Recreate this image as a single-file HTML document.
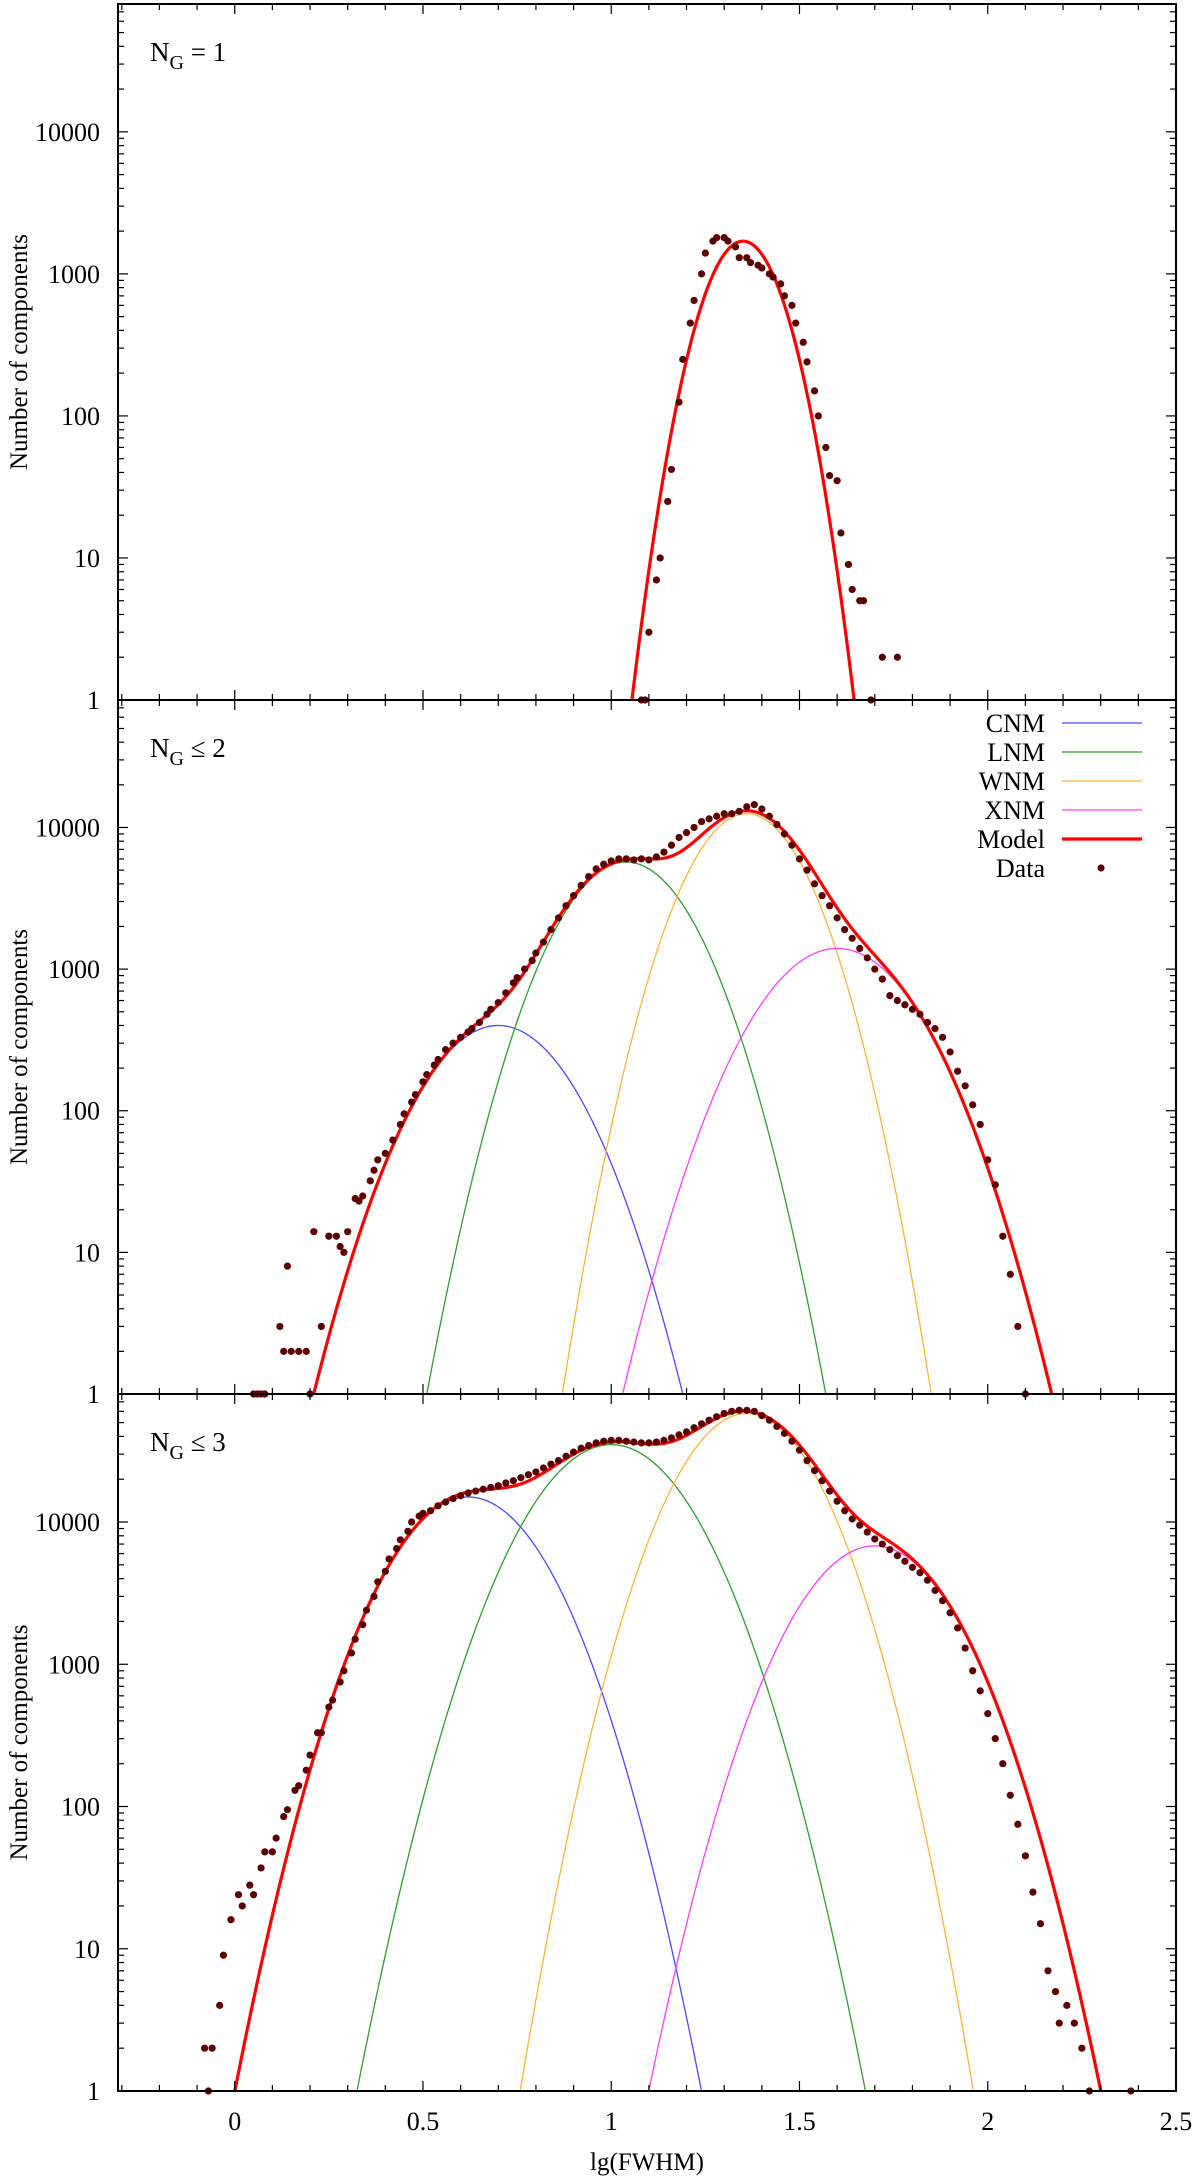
<!DOCTYPE html>
<html><head><meta charset="utf-8"><style>
html,body{margin:0;padding:0;background:#fff;width:1200px;height:2184px;overflow:hidden}
svg{display:block;font-family:"Liberation Serif","DejaVu Serif",serif}
</style></head><body>
<svg id="chart" width="1200" height="2184" viewBox="0 0 1200 2184" xmlns="http://www.w3.org/2000/svg"></svg>
<script>
// ---------- data ----------
const xTicks = [0, 0.5, 1, 1.5, 2, 2.5];
const xTickLabels = ["0", "0.5", "1", "1.5", "2", "2.5"];
const yTicks = [1, 10, 100, 1000, 10000];
const yTickLabels = ["1", "10", "100", "1000", "10000"];
const panelLabels = ["= 1", "\u2264 2", "\u2264 3"];
const componentNames = ["CNM", "LNM", "WNM", "XNM"];
const componentColors = ["#4a4aff", "#2e9e2e", "#ffb340", "#ff40ff"];

// panel 1 model: single gaussian
const p1Amp = [1700];
const p1Mu = [1.35];
const p1Sig = [0.0765];
const p1X = [1.08,1.09,1.10,1.12,1.13,1.15,1.16,1.18,1.19,1.21,1.22,1.24,1.25,1.27,1.28,1.30,1.31,1.33,1.34,1.36,1.37,1.39,1.40,1.42,1.43,1.45,1.46,1.48,1.49,1.51,1.52,1.54,1.55,1.57,1.58,1.60,1.61,1.63,1.64,1.66,1.67,1.69,1.72,1.76];
const p1Y = [1,1,3,7,10,25,42,125,250,450,650,1000,1400,1700,1800,1800,1700,1550,1300,1300,1200,1150,1100,1000,950,850,700,600,450,330,240,150,100,60,38,35,15,9,6,5,5,1,2,2];

// panel 2 model: CNM, LNM, WNM, XNM
const p2Amp = [400, 5700, 12500, 1400];
const p2Mu = [0.70, 1.04, 1.36, 1.60];
const p2Sig = [0.1416, 0.1274, 0.1128, 0.1497];
const p2X = [0.05,0.06,0.07,0.08,0.12,0.13,0.14,0.15,0.17,0.19,0.20,0.21,0.23,0.25,0.27,0.28,0.29,0.30,0.32,0.33,0.34,0.36,0.37,0.38,0.40,0.42,0.44,0.45,0.47,0.48,0.50,0.51,0.53,0.54,0.56,0.58,0.60,0.62,0.63,0.65,0.67,0.68,0.70,0.72,0.74,0.75,0.77,0.79,0.80,0.82,0.84,0.86,0.88,0.90,0.92,0.94,0.96,0.98,1.00,1.02,1.04,1.06,1.08,1.10,1.12,1.14,1.16,1.18,1.20,1.22,1.24,1.26,1.28,1.30,1.32,1.34,1.36,1.38,1.40,1.42,1.44,1.46,1.48,1.50,1.52,1.54,1.56,1.58,1.60,1.62,1.64,1.66,1.68,1.70,1.72,1.74,1.76,1.78,1.80,1.82,1.84,1.86,1.88,1.90,1.92,1.94,1.96,1.98,2.00,2.02,2.04,2.06,2.08,2.10];
const p2Y = [1,1,1,1,3,2,8,2,2,2,1,14,3,13,13,11,10,14,24,23,25,32,38,45,50,62,80,95,115,130,160,180,210,230,270,300,330,360,380,420,480,520,580,680,800,870,1000,1150,1300,1550,1900,2300,2800,3300,3900,4500,5100,5500,5800,6000,6000,5900,6000,5900,6200,6700,7500,8500,9200,10000,11000,11500,12000,12500,12500,13000,14000,14500,13500,12000,10500,9000,7500,6000,5000,4000,3300,2800,2300,1900,1650,1400,1200,1000,850,650,600,560,520,480,420,380,330,260,190,150,110,80,45,30,13,7,3,1];

// panel 3 model
const p3Amp = [15000, 35000, 58000, 6800];
const p3Mu = [0.62, 1.00, 1.36, 1.70];
const p3Sig = [0.1413, 0.1476, 0.1285, 0.1429];
const p3X = [-0.08,-0.07,-0.06,-0.04,-0.03,-0.01,0.01,0.02,0.04,0.05,0.07,0.08,0.10,0.11,0.13,0.14,0.16,0.17,0.19,0.20,0.22,0.23,0.25,0.26,0.28,0.29,0.31,0.32,0.34,0.35,0.37,0.38,0.40,0.41,0.43,0.44,0.46,0.47,0.49,0.50,
  0.52,0.54,0.56,0.58,0.60,0.62,0.64,0.66,0.68,0.70,0.72,0.74,0.76,0.78,0.80,0.82,0.84,0.86,0.88,0.90,0.92,0.94,0.96,0.98,1.00,1.02,1.04,1.06,1.08,1.10,1.12,1.14,1.16,1.18,1.20,1.22,1.24,1.26,1.28,1.30,1.32,1.34,1.36,1.38,1.40,1.42,1.44,1.46,1.48,1.50,1.52,1.54,1.56,1.58,1.60,1.62,1.64,1.66,1.68,1.70,1.72,1.74,1.76,1.78,1.80,1.82,1.84,1.86,1.88,1.90,1.92,1.94,1.96,1.98,2.00,2.02,2.04,2.06,2.08,2.10,2.12,2.14,2.16,2.18,2.19,2.21,2.23,2.25,2.27,2.38];
const p3Y = [2,1,2,4,9,16,24,20,28,24,37,48,48,60,85,95,130,140,180,230,330,330,500,560,750,900,1200,1500,1900,2400,3000,3800,4500,5500,6500,7500,8600,10000,11000,11500,
  12000,13000,13800,14600,15300,16000,16500,17000,17500,18000,18800,19500,20500,21500,22500,24000,25500,27000,29000,31000,33000,34500,36000,37000,37500,37500,37000,36500,36000,36000,36500,37500,39000,41000,43000,46000,49000,52000,55000,58000,60000,61000,61000,60000,56000,52000,47000,42000,37000,32000,27000,23000,19500,16500,14000,12000,10500,9500,8500,7600,7000,6400,5800,5300,4800,4400,3900,3300,2800,2300,1800,1300,900,650,450,300,200,120,75,45,25,15,7,5,3,4,3,2,1,1];

// ---------- layout ----------
const NS = "http://www.w3.org/2000/svg";
const svg = document.getElementById("chart");
const L = 118, R = 1176, XMIN = -0.31, XMAX = 2.5;
const panels = [
  {top: 4, bottom: 700, amp: p1Amp, mu: p1Mu, sig: p1Sig, xs: p1X, ys: p1Y, comps: false},
  {top: 700, bottom: 1394, amp: p2Amp, mu: p2Mu, sig: p2Sig, xs: p2X, ys: p2Y, comps: true},
  {top: 1394, bottom: 2091, amp: p3Amp, mu: p3Mu, sig: p3Sig, xs: p3X, ys: p3Y, comps: true}
];
const LOGMAX = 4.9;
function sx(x){ return L + (x - XMIN) / (XMAX - XMIN) * (R - L); }
function syF(p){ return v => p.bottom - Math.log10(v) / LOGMAX * (p.bottom - p.top); }
function mk(tag, attrs, parent){
  const e = document.createElementNS(NS, tag);
  for (const k in attrs) e.setAttribute(k, attrs[k]);
  (parent || svg).appendChild(e);
  return e;
}
function gauss(a, m, s, x){ return a * Math.exp(-(x - m) * (x - m) / (2 * s * s)); }

panels.forEach((p, pi) => {
  const sy = syF(p);
  const g = mk("g", {});
  
  
  const defs = mk("defs", {}, g);
  const cp = mk("clipPath", {id: "clip" + pi}, defs);
  mk("rect", {x: L, y: p.top, width: R - L, height: p.bottom - p.top}, cp);

  const curves = mk("g", {"clip-path": "url(#clip" + pi + ")"}, g);
  const N = 600;
  if (p.comps) {
    p.amp.forEach((a, ci) => {
      let d = "";
      for (let i = 0; i <= N; i++) {
        const x = XMIN + (XMAX - XMIN) * i / N;
        const v = Math.max(gauss(a, p.mu[ci], p.sig[ci], x), 1e-3);
        d += (i ? "L" : "M") + sx(x).toFixed(2) + "," + sy(v).toFixed(2);
      }
      const c = mk("path", {d: d, fill: "none", stroke: componentColors[ci], "stroke-width": 1.3}, curves);
      
      
    });
  }
  let d = "";
  for (let i = 0; i <= N; i++) {
    const x = XMIN + (XMAX - XMIN) * i / N;
    let v = 0;
    p.amp.forEach((a, ci) => { v += gauss(a, p.mu[ci], p.sig[ci], x); });
    v = Math.max(v, 1e-3);
    d += (i ? "L" : "M") + sx(x).toFixed(2) + "," + sy(v).toFixed(2);
  }
  const model = mk("path", {d: d, fill: "none", stroke: "#ff0000", "stroke-width": 3.2}, curves);
  
  

  const dots = mk("g", {}, g);
  
  
  p.xs.forEach((x, i) => {
    const c = mk("circle", {cx: sx(x).toFixed(2), cy: sy(p.ys[i]).toFixed(2), r: 3.6, fill: "#5c0000"}, dots);
    
    
  });

  const frame = mk("rect", {x: L, y: p.top, width: R - L, height: p.bottom - p.top, fill: "none", stroke: "#000", "stroke-width": 2}, g);
  
  

  const tk = mk("g", {stroke: "#000", "stroke-width": 1.2}, g);
  for (let k = -3; k <= 25; k++) {
    const x = k / 10;
    if (x < XMIN || x > XMAX) continue;
    const major = k % 5 === 0;
    const len = major ? 10 : 6;
    const px = sx(x);
    mk("line", {x1: px, x2: px, y1: p.bottom, y2: p.bottom - len}, tk);
    mk("line", {x1: px, x2: px, y1: p.top, y2: p.top + len}, tk);
  }
  for (let e = 0; e < 5; e++) {
    for (let m = 1; m <= 9; m++) {
      const v = m * Math.pow(10, e);
      if (Math.log10(v) > LOGMAX) continue;
      const py = sy(v);
      const len = m === 1 ? 10 : 6;
      if (m === 1 && e === 0) continue;
      mk("line", {x1: L, x2: L + len, y1: py, y2: py}, tk);
      mk("line", {x1: R, x2: R - len, y1: py, y2: py}, tk);
    }
  }
  yTicks.forEach((v, i) => {
    const t = mk("text", {x: 100, y: sy(v) + 9, "text-anchor": "end", "font-size": 26, fill: "#000"}, g);
    t.textContent = yTickLabels[i];
    
    
  });
  const cy = (p.top + p.bottom) / 2;
  const yt = mk("text", {x: 0, y: 0, transform: "translate(27," + cy + ") rotate(-90)", "text-anchor": "middle", "font-size": 25, fill: "#000"}, g);
  yt.textContent = "Number of components";
  
  
  const pl = mk("text", {x: 150, y: p.top + 57, "font-size": 27, fill: "#000"}, g);
  
  
  const t1 = mk("tspan", {}, pl); t1.textContent = "N";
  const t2 = mk("tspan", {dy: 8, "font-size": 20}, pl); t2.textContent = "G";
  const t3 = mk("tspan", {dy: -8}, pl); t3.textContent = " " + panelLabels[pi];
});

xTicks.forEach((x, i) => {
  const t = mk("text", {x: sx(x), y: 2130, "text-anchor": "middle", "font-size": 26, fill: "#000"});
  t.textContent = xTickLabels[i];
  
  
});
const xt = mk("text", {x: 647, y: 2170, "text-anchor": "middle", "font-size": 25, fill: "#000"});
xt.textContent = "lg(FWHM)";



const legend = mk("g", {});


const legNames = componentNames.concat(["Model", "Data"]);
legNames.forEach((n, i) => {
  const y = 723 + i * 29;
  const t = mk("text", {x: 1045, y: y + 9, "text-anchor": "end", "font-size": 26, fill: "#000"}, legend);
  t.textContent = n;
  
  
  if (i < 4) {
    const l = mk("line", {x1: 1062, x2: 1142, y1: y, y2: y, stroke: componentColors[i], "stroke-width": 1.3}, legend);
    
    
  } else if (i === 4) {
    const l = mk("line", {x1: 1062, x2: 1142, y1: y, y2: y, stroke: "#ff0000", "stroke-width": 3.2}, legend);
    
    
  } else {
    const c = mk("circle", {cx: 1101, cy: y, r: 3.6, fill: "#5c0000"}, legend);
    
    
  }
});
</script>
</body></html>
